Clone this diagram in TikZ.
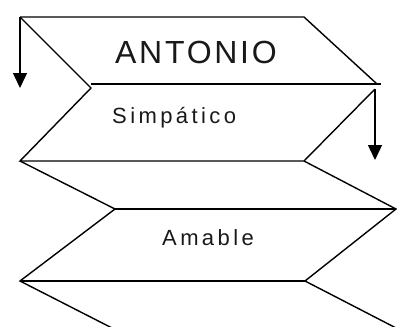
\documentclass[tikz,border=0pt]{standalone}
\usepackage{fontspec}
\setmainfont{Liberation Sans}
\newfontfamily\bigfont[LetterSpace=8.5]{Liberation Sans}
\newfontfamily\smallfont[LetterSpace=15.5]{Liberation Sans}
\usetikzlibrary{arrows.meta}
\begin{document}
\begin{tikzpicture}[x=1pt,y=-1pt,
  band/.style={line width=1.4pt,line join=miter},
  downarrow/.style={line width=1.4pt,-{Triangle[width=14pt,length=15pt]}},
  label/.style={anchor=base west,inner sep=0pt,text=black!90}]
\useasboundingbox (0,0) rectangle (397,327);
% corner points of the zigzag bands
\coordinate (t1) at (20,17);
\coordinate (t2) at (304,17);
\coordinate (r1) at (377,84);
\coordinate (m1) at (91,84);
\coordinate (m1e) at (381,84);
\coordinate (l1) at (91,88);
\coordinate (r1b) at (375,89);
\coordinate (l2) at (20,161);
\coordinate (r2) at (304,161);
\coordinate (l3) at (115,209);
\coordinate (r3) at (396,209);
\coordinate (l4) at (20,281);
\coordinate (r4) at (305,281);
\coordinate (l5) at (112,328);
\coordinate (r5) at (398,329);
\coordinate (a1) at (20,88);
\coordinate (a2) at (375,160);
% outlines
\draw[band] (t1) -- (t2) -- (r1);
\draw[band] (m1) -- (m1e);
\draw[band] (t1) -- (l1) -- (l2) -- (r2) -- (r1b);
\draw[band] (l2) -- (l3) -- (l4) -- (l5);
\draw[band] (r2) -- (r3) -- (r4) -- (r5);
\draw[band] (l3) -- (r3);
\draw[band] (l4) -- (r4);
% arrows
\draw[downarrow] (t1) -- (a1);
\draw[downarrow] (r1b) -- (a2);
% labels
\node[label,font=\bigfont\fontsize{32}{36}\selectfont] (antonio) at (115,63) {ANTONIO};
\node[label,font=\smallfont\fontsize{22}{26}\selectfont] (simpatico) at (112,123) {Simpático};
\node[label,font=\smallfont\fontsize{22}{26}\selectfont] (amable) at (162,245) {Amable};
\end{tikzpicture}
\end{document}
